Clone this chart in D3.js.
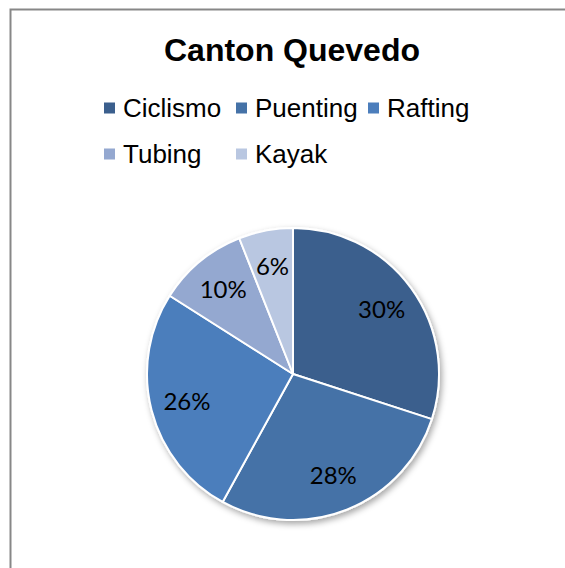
<!DOCTYPE html>
<html>
<head>
<meta charset="utf-8">
<script src="https://cdn.jsdelivr.net/npm/d3@7"></script>
<style>
  body { margin: 0; background: #fff; }
  svg { display: block; }
</style>
</head>
<body>
<svg id="chart" width="565" height="568"></svg>
<script>
// data
var categories = ['Ciclismo', 'Puenting', 'Rafting', 'Tubing', 'Kayak'];
var values = [30, 28, 26, 10, 6];
var colors = ['#3b5f8d', '#4572a7', '#4c7ebc', '#94a8d0', '#b9c7e1'];
var title = 'Canton Quevedo';

var svg = d3.select('#chart');

// drop shadow for the pie
var defs = svg.append('defs');
var f = defs.append('filter').attr('id', 'shadow')
  .attr('x', '-20%').attr('y', '-20%').attr('width', '140%').attr('height', '140%');
f.append('feDropShadow')
  .attr('dx', 2).attr('dy', 3).attr('stdDeviation', 3)
  .attr('flood-color', '#000').attr('flood-opacity', 0.35);

// chart frame (runs off the right and bottom of the window)
svg.append('rect')
  .attr('x', 10.5).attr('y', 9.5)
  .attr('width', 600).attr('height', 600)
  .attr('fill', '#fff')
  .attr('stroke', '#878787')
  .attr('stroke-width', 2);

svg.append('text')
  .attr('x', 292).attr('y', 61)
  .attr('text-anchor', 'middle')
  .attr('font-family', '"Liberation Sans", Arial, sans-serif')
  .attr('font-weight', 'bold')
  .attr('font-size', 32)
  .attr('fill', '#000')
  .text(title);

// legend, laid out on a grid of three columns
var colW = 132, rowH = 46, lx = 104, ly = 108;
var legend = svg.append('g').selectAll('g')
  .data(categories)
  .join('g')
  .attr('transform', function (d, i) {
    return 'translate(' + (lx + (i % 3) * colW) + ',' + (ly + Math.floor(i / 3) * rowH) + ')';
  });
legend.append('rect')
  .attr('x', 0).attr('y', -5.5)
  .attr('width', 11).attr('height', 11)
  .attr('fill', function (d, i) { return colors[i]; });
legend.append('text')
  .attr('x', 19).attr('y', 9)
  .attr('font-family', '"Liberation Sans", Arial, sans-serif')
  .attr('font-size', 26)
  .attr('fill', '#000')
  .text(function (d) { return d; });

// pie
var cx = 293, cy = 374, r = 146;
var total = d3.sum(values);
var pie = d3.pie().sort(null).value(function (d) { return d; });
var arcs = pie(values);
var arc = d3.arc().innerRadius(0).outerRadius(r);
var labelArc = d3.arc().innerRadius(r * 0.75).outerRadius(r * 0.75);

var g = svg.append('g').attr('transform', 'translate(' + cx + ',' + cy + ')');

g.append('g').attr('filter', 'url(#shadow)')
  .selectAll('path')
  .data(arcs)
  .join('path')
  .attr('d', arc)
  .attr('fill', function (d, i) { return colors[i]; })
  .attr('stroke', '#fff')
  .attr('stroke-width', 2)
  .attr('stroke-linejoin', 'round');

g.selectAll('text.lbl')
  .data(arcs)
  .join('text')
  .attr('class', 'lbl')
  .attr('transform', function (d) { return 'translate(' + labelArc.centroid(d) + ')'; })
  .attr('text-anchor', 'middle')
  .attr('dy', '0.35em')
  .attr('font-family', 'Lato, "Open Sans", sans-serif')
  .attr('font-size', 24)
  .attr('fill', '#000')
  .text(function (d) { return Math.round(d.value / total * 100) + '%'; });
</script>
</body>
</html>
